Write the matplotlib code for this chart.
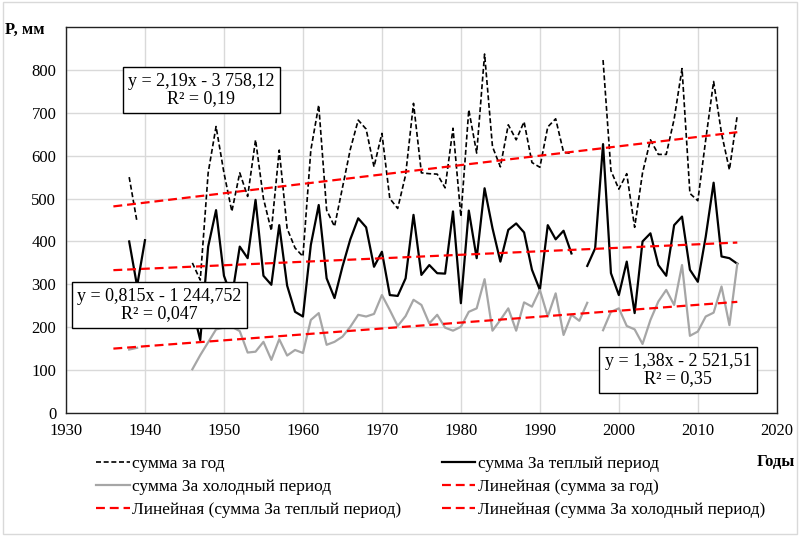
import numpy as np
import matplotlib
matplotlib.use('Agg')
import matplotlib.pyplot as plt
from matplotlib.patches import Rectangle

plt.rcParams['font.family'] = ['Liberation Serif', 'DejaVu Serif']

# years 1938..2015, gaps are nan
years = np.arange(1938, 2016)
nan = np.nan

# сумма за год
annual = [550, 445, nan, nan, nan, nan, nan, nan, 350, 310,
          560, 668, 560, 470, 560, 505, 637, 500, 425, 613,
          430, 385, 365, 613, 718, 473, 435, 525, 615, 683,
          662, 574, 652, 500, 477, 555, 722, 560, 558, 557,
          525, 664, 458, 707, 606, 837, 621, 574, 672, 637,
          679, 584, 573, 667, 686, 608, 605, nan, nan, nan,
          823, 565, 522, 558, 433, 560, 637, 603, 603, 685,
          803, 512, 495, 637, 773, 652, 567, 695]

# сумма за теплый период
warm = [400, 296, 403, nan, nan, nan, nan, nan, 245, 170,
        388, 473, 320, 270, 388, 361, 497, 320, 299, 438,
        297, 236, 225, 392, 485, 314, 268, 341, 405, 454,
        433, 341, 376, 275, 273, 314, 462, 322, 345, 326,
        325, 470, 256, 472, 361, 524, 431, 353, 427, 442,
        421, 334, 287, 438, 405, 425, 372, nan, 343, 384,
        627, 326, 275, 353, 233, 400, 419, 345, 320, 438,
        458, 334, 306, 411, 537, 365, 361, 348]

# сумма за холодный период
cold = [148, 152, nan, nan, nan, nan, nan, nan, 102, 135,
        165, 195, 199, 201, 191, 141, 143, 166, 124, 172,
        134, 147, 140, 217, 233, 159, 166, 178, 201, 229,
        225, 231, 275, 240, 203, 226, 264, 252, 209, 229,
        199, 192, 201, 236, 244, 312, 192, 217, 244, 192,
        258, 248, 287, 225, 279, 182, 229, 215, 257, nan,
        193, 236, 244, 203, 195, 161, 217, 260, 287, 252,
        345, 180, 190, 225, 234, 295, 205, 348]

# trend coefficients from the chart labels (slope, intercept)
trend_annual = (2.19, -3758.12)
trend_warm = (0.815, -1244.752)
trend_cold = (1.38, -2521.51)
trend_years = np.array([1936, 2015])

fig = plt.figure(figsize=(8, 5.38), dpi=100)
ax = fig.add_axes([0.0825, 0.2323, 0.8885, 0.7175])

l1, = ax.plot(years, annual, color='black', lw=1.2, ls=(0, (3, 1.6)), label='сумма за год')
l2, = ax.plot(years, warm, color='black', lw=1.6, label='сумма За теплый период')
l3, = ax.plot(years, cold, color='#a6a6a6', lw=1.6, label='сумма За холодный период')

red_ls = (0, (4, 2.2))
t1, = ax.plot(trend_years, trend_annual[0] * trend_years + trend_annual[1], color='red', lw=1.6, ls=red_ls,
              label='Линейная (сумма за год)')
t2, = ax.plot(trend_years, trend_warm[0] * trend_years + trend_warm[1], color='red', lw=1.6, ls=red_ls,
              label='Линейная (сумма За теплый период)')
t3, = ax.plot(trend_years, trend_cold[0] * trend_years + trend_cold[1], color='red', lw=1.6, ls=red_ls,
              label='Линейная (сумма За холодный период)')

ax.set_xlim(1930, 2020)
ax.set_ylim(0, 900)
ax.set_xticks(range(1930, 2021, 10))
ax.set_yticks(range(0, 801, 100))
ax.grid(True, color='#d9d9d9', lw=1)
ax.set_axisbelow(True)
ax.tick_params(length=0, labelsize=12, pad=7)
for s in ax.spines.values():
    s.set_color('#222222')
    s.set_linewidth(1)

box = dict(boxstyle='square,pad=0.3', fc='white', ec='black', lw=1)
ax.text(1947.15, 753, 'y = 2,19x - 3 758,12\nR² = 0,19', ha='center', va='center',
        fontsize=13, bbox=box, linespacing=1.05)
ax.text(1941.8, 252, 'y = 0,815x - 1 244,752\nR² = 0,047', ha='center', va='center',
        fontsize=13, bbox=box, linespacing=1.05)
ax.text(2007.5, 100, 'y = 1,38x - 2 521,51\nR² = 0,35', ha='center', va='center',
        fontsize=13, bbox=box, linespacing=1.05)

fig.text(5 / 800, 1 - 30 / 538, 'P, мм', fontsize=12, fontweight='bold', va='center')
fig.text(795 / 800, 1 - 462 / 538, 'Годы', fontsize=12, fontweight='bold', va='center', ha='right')

fig.legend([l1, l3, t2, l2, t1, t3],
           [h.get_label() for h in [l1, l3, t2, l2, t1, t3]],
           ncol=2, loc='upper left', bbox_to_anchor=(96 / 800, 1 - 456 / 538),
           frameon=False, fontsize=12.5, handlelength=1.95, handletextpad=0.15,
           columnspacing=2.3, labelspacing=0.38, borderpad=0, borderaxespad=0)

fig.patches.append(Rectangle((0.004, 0.008), 0.992, 0.988, transform=fig.transFigure,
                             fill=False, ec='#d9d9d9', lw=1))

fig.savefig('out.png', dpi=100)
